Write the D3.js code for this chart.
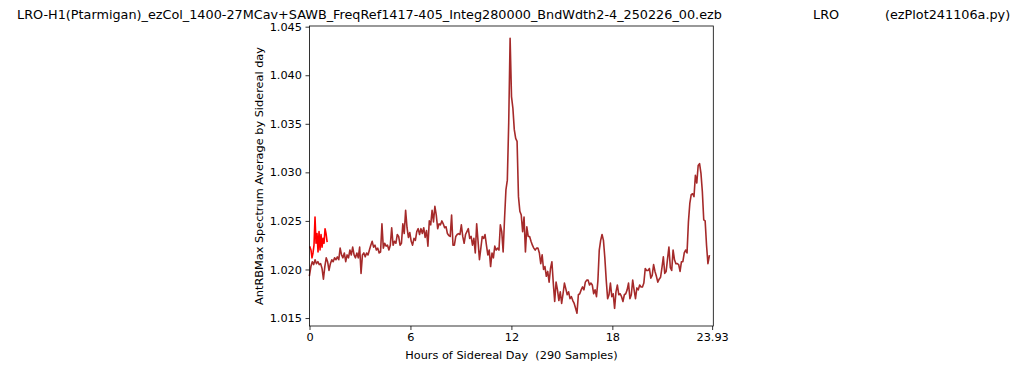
<!DOCTYPE html>
<html><head><meta charset="utf-8">
<script src="https://cdn.jsdelivr.net/npm/d3@7/dist/d3.min.js"></script>
<style>
html,body{margin:0;padding:0;background:#fff;}
svg{display:block;}
text{font-family:"DejaVu Sans",sans-serif;fill:#000;}
</style></head>
<body><svg id="c" width="1024" height="370"></svg>
<script>
// ---- data ----
const titleParts = ["LRO-H1(Ptarmigan)_ezCol_1400-27MCav+SAWB_FreqRef1417-405_Integ280000_BndWdth2-4_250226_00.ezb", "LRO", "(ezPlot241106a.py)"];
const xLabel = "Hours of Sidereal Day  (290 Samples)";
const yLabel = "AntRBMax Spectrum Average by Sidereal day";
const xTicks = [0, 6, 12, 18, 23.93];
const xTickLabels = ["0", "6", "12", "18", "23.93"];
const yTicks = [1.015, 1.020, 1.025, 1.030, 1.035, 1.040, 1.045];
const yTickLabels = ["1.015", "1.020", "1.025", "1.030", "1.035", "1.040", "1.045"];
const sampleStepHours = 0.0828;
const avgValues = [
1.0194,1.0203,1.0208,1.0205,1.0210,1.0206,1.0208,1.0205,1.0206,1.0201,
1.0190,1.0203,1.0212,1.0208,1.0199,1.0206,1.0210,1.0208,1.0212,1.0210,
1.0213,1.0210,1.0222,1.0215,1.0212,1.0217,1.0208,1.0215,1.0212,1.0220,
1.0215,1.0223,1.0215,1.0212,1.0217,1.0212,1.0223,1.0196,1.0215,1.0217,
1.0213,1.0217,1.0215,1.0220,1.0225,1.0229,1.0223,1.0225,1.0220,1.0222,
1.0217,1.0218,1.0247,1.0222,1.0227,1.0224,1.0225,1.0220,1.0225,1.0243,
1.0225,1.0229,1.0227,1.0236,1.0234,1.0225,1.0227,1.0247,1.0237,1.0261,
1.0243,1.0233,1.0238,1.0229,1.0225,1.0232,1.0230,1.0239,1.0242,1.0236,
1.0242,1.0237,1.0243,1.0233,1.0240,1.0224,1.0250,1.0246,1.0261,1.0249,
1.0265,1.0256,1.0242,1.0247,1.0246,1.0250,1.0247,1.0243,1.0244,1.0237,
1.0235,1.0234,1.0256,1.0225,1.0225,1.0234,1.0236,1.0237,1.0236,1.0246,
1.0234,1.0227,1.0236,1.0239,1.0242,1.0232,1.0234,1.0225,1.0232,1.0217,
1.0247,1.0229,1.0210,1.0222,1.0234,1.0232,1.0236,1.0225,1.0215,1.0220,
1.0203,1.0217,1.0212,1.0224,1.0220,1.0222,1.0220,1.0246,1.0239,1.0218,
1.0252,1.0282,1.0292,1.0351,1.0438,1.0378,1.0366,1.0344,1.0335,1.0332,
1.0275,1.0260,1.0256,1.0239,1.0254,1.0218,1.0244,1.0234,1.0234,1.0229,
1.0225,1.0222,1.0220,1.0222,1.0222,1.0217,1.0206,1.0215,1.0200,1.0203,
1.0193,1.0198,1.0187,1.0201,1.0208,1.0186,1.0167,1.0187,1.0179,1.0168,
1.0177,1.0165,1.0175,1.0186,1.0180,1.0174,1.0177,1.0170,1.0172,1.0168,
1.0165,1.0160,1.0155,1.0174,1.0175,1.0179,1.0182,1.0179,1.0187,1.0189,
1.0189,1.0184,1.0186,1.0184,1.0175,1.0179,1.0172,1.0188,1.0220,1.0230,
1.0236,1.0230,1.0212,1.0189,1.0170,1.0174,1.0186,1.0172,1.0175,1.0160,
1.0177,1.0184,1.0174,1.0175,1.0172,1.0167,1.0174,1.0175,1.0179,1.0186,
1.0170,1.0174,1.0189,1.0179,1.0170,1.0181,1.0179,1.0184,1.0182,1.0182,
1.0186,1.0201,1.0199,1.0199,1.0201,1.0191,1.0194,1.0205,1.0198,1.0193,
1.0187,1.0190,1.0192,1.0202,1.0213,1.0196,1.0198,1.0211,1.0223,1.0202,
1.0199,1.0220,1.0210,1.0206,1.0206,1.0205,1.0198,1.0208,1.0208,1.0217,
1.0220,1.0217,1.0249,1.0268,1.0277,1.0278,1.0275,1.0297,1.0289,1.0307,
1.0309,1.0299,1.0280,1.0251,1.0250,1.0225,1.0206,1.0214
];
const redStartHour = 0.03;
const redStepHours = 0.0596;
const redValues = [
1.0223,1.0220,1.0212,1.0217,1.0225,1.0254,1.0227,1.0237,1.0218,1.0239,
1.0220,1.0236,1.0223,1.0232,1.0227,1.0242,1.0237,1.0229
];

// ---- drawing ----
const svg = d3.select("#c");
svg.append("rect").attr("width",1024).attr("height",370).attr("fill","#fff");
const L = 309.5, R = 713.3, T = 26, B = 326;
const x = d3.scaleLinear().domain([0, 24]).range([L, R]);
const y = d3.scaleLinear().domain([1.01418, 1.04507]).range([B, T]);

const avgData = avgValues.map((v,i)=>({h:i*sampleStepHours, v}));
const redData = redValues.map((v,i)=>({h:redStartHour + i*redStepHours, v}));
const line = d3.line().x(d=>x(d.h)).y(d=>y(d.v));

svg.append("path").datum(avgData).attr("d", line)
  .attr("fill","none").attr("stroke","#a52a2a").attr("stroke-width",1.6)
  .attr("stroke-linejoin","round").attr("stroke-linecap","square");
svg.append("path").datum(redData).attr("d", line)
  .attr("fill","none").attr("stroke","#ff0000").attr("stroke-width",1.6)
  .attr("stroke-linejoin","round").attr("stroke-linecap","square");

// axes
const xAxis = d3.axisBottom(x).tickValues(xTicks).tickFormat((d,i)=>xTickLabels[i]).tickSize(4).tickPadding(3);
const gx = svg.append("g").attr("transform",`translate(0,${B})`).call(xAxis);
const yAxis = d3.axisLeft(y).tickValues(yTicks).tickFormat((d,i)=>yTickLabels[i]).tickSize(4).tickPadding(3.5);
const gy = svg.append("g").attr("transform",`translate(${L},0)`).call(yAxis);
[gx,gy].forEach(g=>{
  g.select(".domain").remove();
  g.selectAll(".tick line").attr("stroke","#000").attr("stroke-width",0.8);
  g.selectAll(".tick text").attr("font-family","DejaVu Sans").attr("font-size",11.3).attr("fill","#000");
});

// frame
svg.append("rect").attr("x",L).attr("y",T).attr("width",R-L).attr("height",B-T)
  .attr("fill","none").attr("stroke","#000").attr("stroke-width",0.8);

// labels
svg.append("text").attr("x",(L+R)/2).attr("y",359).attr("text-anchor","middle")
  .attr("font-size",11.3).style("white-space","pre").text(xLabel);
svg.append("text").attr("transform",`translate(262.5,${(T+B)/2}) rotate(-90)`).attr("text-anchor","middle")
  .attr("font-size",11.3).text(yLabel);

// title
const tX = [17, 813, 885];
titleParts.forEach((t,i)=>{
  svg.append("text").attr("x",tX[i]).attr("y",19).attr("font-size",12.8).text(t);
});
</script></body></html>
